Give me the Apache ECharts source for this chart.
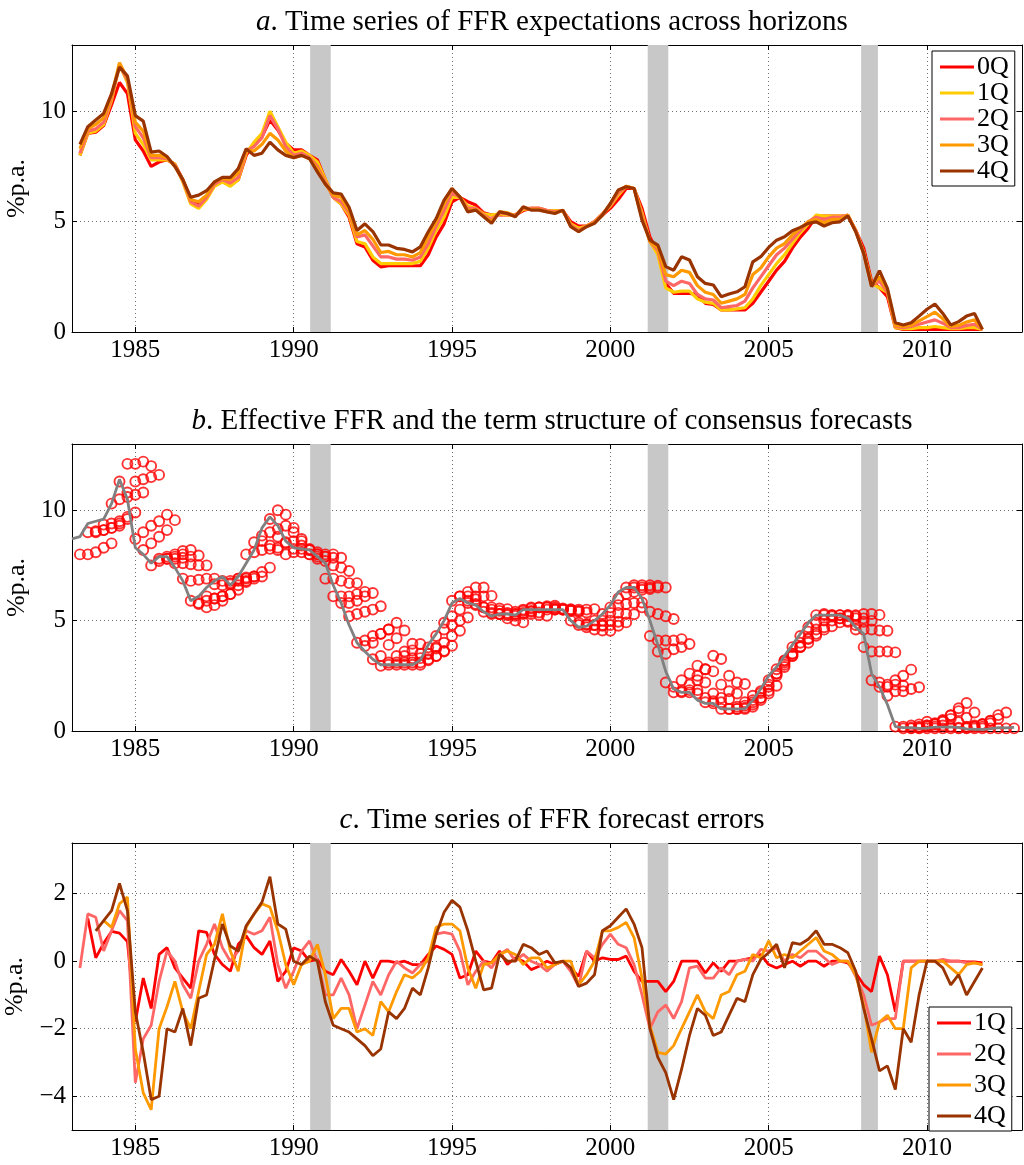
<!DOCTYPE html>
<html>
<head>
<meta charset="utf-8">
<script src="https://cdn.jsdelivr.net/npm/echarts@6/dist/echarts.min.js"></script>
<style>
  html, body { margin: 0; padding: 0; background: #fff; }
  #chart { width: 1024px; height: 1165px; }
</style>
</head>
<body>
<div id="chart"></div>
<script>
// FFR expectations, term structure and forecast errors — 3 stacked panels

// ---- Data (quarterly) ----
const FC_START = 1983.25;    // first survey quarter
const EFFR_START = 1983.0;

// forecasts by horizon, 1983Q2 .. 2011Q4
const fc0Q = [
  8.0, 9.0, 9.05,
  9.35, 10.3, 11.3, 10.8,  8.7, 8.2, 7.5, 7.7,  7.8, 7.6, 6.9, 5.9,  5.75, 6.1, 6.65, 6.8,
  6.65, 6.9, 8.0, 8.55,  8.85, 9.6, 9.15, 8.55,  8.25, 8.25, 8.0, 7.8,  6.9, 6.1, 5.8, 5.2,
  4.0, 3.85, 3.25, 2.95,  3.0, 3.0, 3.0, 3.0,  3.0, 3.5, 4.3, 4.9,  5.9, 6.1, 5.9, 5.75,
  5.4, 5.3, 5.3, 5.3,  5.3, 5.5, 5.6, 5.6,  5.5, 5.5, 5.5, 5.0,  4.8, 4.8, 5.0, 5.3,
  5.6, 6.0, 6.5, 6.5,  5.6, 4.3, 3.6, 2.2,  1.75, 1.75, 1.75, 1.7,  1.3, 1.25, 1.0, 1.0,
  1.0, 1.0, 1.3, 1.8,  2.3, 2.8, 3.2, 3.8,  4.3, 4.7, 5.25, 5.25,  5.25, 5.25, 5.25, 4.6,
  3.8, 2.3, 2.0, 1.6,  0.2, 0.12, 0.12, 0.12,  0.12, 0.12, 0.12, 0.12,  0.12, 0.12, 0.12, 0.12,
];
const fc1Q = [
  8.0, 9.0, 9.1,
  9.4, 10.5, 12.1, 11.3,  9.0, 8.5, 7.8, 7.8,  7.8, 7.6, 6.8, 5.8,  5.6, 6.0, 6.6, 6.8,
  6.6, 6.9, 8.1, 8.6,  9.0, 10.0, 9.3, 8.6,  8.1, 8.2, 8.0, 7.7,  6.9, 6.1, 5.8, 5.3,
  4.1, 4.0, 3.4, 3.1,  3.1, 3.1, 3.1, 3.1,  3.2, 3.8, 4.6, 5.2,  6.1, 6.1, 5.7, 5.6,
  5.35, 5.3, 5.35, 5.3,  5.3, 5.55, 5.6, 5.6,  5.5, 5.5, 5.5, 4.9,  4.7, 4.8, 5.0, 5.35,
  5.7, 6.2, 6.6, 6.5,  5.4, 4.1, 3.5, 2.0,  1.8, 1.85, 1.85, 1.5,  1.35, 1.3, 1.0, 1.0,
  1.05, 1.1, 1.5, 2.1,  2.6, 3.1, 3.5, 4.0,  4.5, 4.9, 5.3, 5.25,  5.25, 5.25, 5.25, 4.6,
  3.6, 2.2, 2.0, 1.8,  0.2, 0.15, 0.15, 0.2,  0.2, 0.25, 0.2, 0.15,  0.15, 0.2, 0.2, 0.12,
];
const fc2Q = [
  8.1, 9.1, 9.2,
  9.5, 10.6, 12.1, 11.4,  9.3, 8.8, 7.9, 7.9,  7.85, 7.55, 6.85, 5.9,  5.7, 6.1, 6.7, 6.9,
  6.75, 7.0, 8.2, 8.4,  8.8, 9.8, 9.2, 8.4,  8.0, 8.1, 7.9, 7.5,  6.8, 6.1, 5.9, 5.4,
  4.3, 4.4, 3.9, 3.4,  3.4, 3.3, 3.3, 3.25,  3.4, 4.0, 4.8, 5.5,  6.3, 6.1, 5.6, 5.6,
  5.3, 5.1, 5.4, 5.35,  5.3, 5.6, 5.6, 5.6,  5.5, 5.45, 5.5, 4.85,  4.6, 4.8, 5.0, 5.35,
  5.75, 6.3, 6.6, 6.5,  5.3, 4.1, 3.7, 2.3,  2.1, 2.3, 2.2, 1.7,  1.5, 1.45, 1.1, 1.15,
  1.2, 1.4, 2.0, 2.5,  3.0, 3.5, 3.8, 4.2,  4.6, 5.0, 5.2, 5.1,  5.2, 5.2, 5.3, 4.6,
  3.6, 2.1, 2.3, 1.8,  0.25, 0.2, 0.25, 0.35,  0.45, 0.55, 0.4, 0.2,  0.2, 0.3, 0.35, 0.12,
];
const fc3Q = [
  8.3, 9.2, 9.4,
  9.7, 10.7, 12.2, 11.5,  9.5, 9.1, 8.0, 8.0,  7.9, 7.5, 6.9, 6.0,  5.9, 6.2, 6.8, 6.95,
  6.9, 7.2, 8.25, 8.2,  8.5, 9.0, 8.7, 8.2,  7.9, 8.0, 7.85, 7.4,  6.7, 6.2, 6.1, 5.5,
  4.4, 4.6, 4.2, 3.6,  3.65, 3.5, 3.5, 3.4,  3.6, 4.3, 5.0, 5.8,  6.5, 6.1, 5.5, 5.55,
  5.25, 5.0, 5.45, 5.4,  5.25, 5.65, 5.55, 5.55,  5.45, 5.4, 5.5, 4.8,  4.55, 4.8, 4.95, 5.3,
  5.8, 6.4, 6.6, 6.5,  5.2, 4.1, 3.8, 2.6,  2.5, 2.8, 2.7, 2.1,  1.8, 1.7, 1.3, 1.4,
  1.5, 1.7, 2.6, 2.9,  3.4, 3.8, 4.0, 4.4,  4.7, 5.0, 5.1, 4.95,  5.1, 5.1, 5.3, 4.55,
  3.6, 2.1, 2.5, 1.9,  0.3, 0.25, 0.3, 0.5,  0.7, 0.9, 0.6, 0.25,  0.3, 0.45, 0.55, 0.12,
];
const fc4Q = [
  8.5, 9.3, 9.6,
  9.9, 10.8, 12.0, 11.6,  9.8, 9.55, 8.15, 8.2,  7.95, 7.5, 6.9, 6.1,  6.2, 6.4, 6.8, 7.0,
  7.0, 7.4, 8.3, 8.0,  8.1, 8.6, 8.25, 8.0,  7.9, 8.0, 7.85, 7.25,  6.7, 6.3, 6.25, 5.65,
  4.6, 4.9, 4.55, 3.95,  3.94, 3.79, 3.74, 3.63,  3.86, 4.54, 5.14, 5.97,  6.5, 6.12, 5.44, 5.52,
  5.22, 4.92, 5.44, 5.37,  5.22, 5.67, 5.52, 5.52,  5.44, 5.37, 5.52, 4.77,  4.54, 4.77, 4.92, 5.29,
  5.82, 6.43, 6.58, 6.5,  5.07, 4.16, 3.94, 2.96,  2.8, 3.41, 3.26, 2.5,  2.2, 2.13, 1.6, 1.72,
  1.82, 2.05, 3.18, 3.41,  3.83, 4.16, 4.31, 4.59,  4.74, 4.92, 4.99, 4.8,  4.95, 4.99, 5.26, 4.54,
  3.56, 2.05, 2.78, 1.98,  0.42, 0.32, 0.42, 0.72,  1.03, 1.27, 0.84, 0.32,  0.47, 0.72, 0.84, 0.12,
];

// effective FFR, 1983Q1 .. 2012Q4
const effr = [
  8.7, 8.8, 9.4, 9.5,  9.6, 10.3, 11.4, 10.5,  8.3, 8.0, 7.6, 7.9,  7.9, 7.4, 6.8, 5.9,
  6.1, 6.5, 6.8, 7.0,  6.6, 7.0, 7.6, 8.2,  9.2, 9.7, 9.3, 8.6,  8.3, 8.25, 8.2, 7.9,
  7.6, 6.6, 5.8, 4.8,  4.0, 3.6, 3.25, 3.0,  3.0, 3.0, 3.0, 3.0,  3.2, 3.9, 4.4, 5.0,
  5.8, 6.0, 5.8, 5.7,  5.4, 5.2, 5.3, 5.3,  5.25, 5.5, 5.5, 5.5,  5.5, 5.5, 5.5, 5.0,
  4.7, 4.75, 5.0, 5.3,  5.7, 6.3, 6.5, 6.5,  6.0, 5.0, 3.9, 2.7,  1.9, 1.75, 1.75, 1.4,
  1.25, 1.25, 1.0, 1.0,  1.0, 1.0, 1.4, 1.9,  2.5, 2.9, 3.4, 3.9,  4.4, 4.9, 5.25, 5.25,
  5.25, 5.25, 5.1, 4.7,  4.4, 2.6, 2.0, 1.2,  0.2, 0.15, 0.15, 0.12,  0.13, 0.18, 0.18, 0.19,
  0.15, 0.1, 0.08, 0.07,  0.1, 0.15, 0.14, 0.16,
];

// forecast errors by horizon, 1983Q2 .. 2011Q4
const err1Q = [
  null, 1.27, 0.1,
  0.53, 0.88, 0.83, 0.58,  -1.8, -0.5, -1.4, 0.2,  0.4, -0.2, -0.5, -0.8,  0.9, 0.85, 0.2, -0.1,
  -0.3, 0.5, 0.75, 0.4,  0.2, 0.6, -0.6, -0.3,  0.4, 0.3, 0.0, 0.05,  -0.3, -0.4, 0.05, -0.3,
  -0.7, 0.0, -0.5, 0.0,  0.0, -0.05, 0.0, -0.1,  -0.1, 0.2, 0.45, 0.35,  0.2, -0.5, -0.4, 0.3,
  0.0, -0.05, 0.3, -0.1,  0.1, 0.0, -0.25, -0.15,  0.0, -0.1, 0.0, -0.2,  -0.45, 0.3, 0.0, 0.1,
  0.05, 0.05, 0.15, -0.3,  -0.6, -0.6, -0.6, -0.9,  -0.6, 0.0, 0.0, 0.0,  -0.35, -0.05, -0.3, 0.0,
  0.0, 0.05, 0.1, 0.2,  -0.1, -0.2, -0.1, 0.0,  -0.15, 0.0, 0.0, -0.15,  0.0, 0.0, -0.05, -0.35,
  -0.7, -0.9, 0.15, -0.4,  -1.5, 0.0, 0.0, 0.0,  0.0, 0.0, 0.0, 0.0,  0.0, -0.02, -0.02, -0.05,
];
const err2Q = [
  -0.2, 1.4, 1.3,
  0.3, 0.9, 1.5, 1.2,  -3.6, -2.3, -1.9, -0.6,  0.3, 0.0, -0.7, -1.1,  0.0, 0.5, 1.1, 0.4,
  0.0, 0.3, 0.9, 0.8,  0.9, 1.3, -0.1, -0.8,  -0.3, 0.3, 0.6, 0.0,  -1.0, -1.0, -0.5, -1.0,
  -2.0, -1.3, -0.6, -1.0,  -0.4, 0.0, -0.2, -0.35,  -0.1, 0.0, 0.8, 0.85,  0.8, 0.3, -0.7, -0.3,
  0.0, -0.2, 0.2, 0.35,  0.0, 0.2, 0.0, -0.1,  -0.3, -0.1, 0.0, -0.3,  -0.75, 0.3, 0.1, 0.5,
  0.8, 0.5, 0.4, -0.1,  -1.0, -2.0, -1.5, -1.3,  -1.7, -1.2, -0.2, -0.15,  -0.5, -0.5, -0.2, -0.4,
  0.0, 0.05, 0.0, 0.35,  0.3, 0.4, 0.0, 0.2,  0.1, 0.3, 0.3, 0.1,  -0.1, 0.0, 0.0, -0.45,
  -1.0, -1.9, -1.8, -1.7,  -1.7, 0.0, 0.0, 0.0,  0.0, 0.0, 0.05, 0.0,  0.0, -0.05, -0.05, -0.1,
];
const err3Q = [
  null, null, null,
  1.2, 1.0, 1.7, 1.9,  -2.6, -3.9, -4.4, -2.0,  -1.35, -0.6, -1.5, -2.0,  -0.9, 0.2, 0.5, 1.4,
  0.3, -0.3, 1.0, 1.4,  1.7, 1.6, 0.9, -0.1,  -0.7, -0.1, 0.0, 0.5,  -0.4, -1.7, -1.4, -1.4,
  -2.1, -2.0, -2.2, -1.2,  -1.5, -0.9, -0.4, -0.5,  -0.3, 0.1, 1.0, 1.1,  1.1, 0.9, -0.2, -0.8,
  -0.1, -0.05, 0.2, 0.3,  0.2, -0.1, 0.1, 0.1,  -0.2, -0.1, 0.0, 0.0,  -0.7, -0.4, 0.0, 0.9,
  0.9, 1.0, 1.15, 0.7,  -0.5, -1.9, -2.7, -2.75,  -2.5, -2.0, -1.5, -1.0,  -1.5, -1.7, -1.0, -0.9,
  -0.4, -0.3, 0.2, 0.1,  0.6, 0.1, 0.2, 0.1,  0.3, 0.5, 0.7, 0.3,  0.2, 0.0, 0.0, -0.4,
  -1.3, -2.7, -1.8, -1.6,  -2.0, -2.0, -0.2, 0.0,  0.0, 0.0, 0.0, -0.2,  -0.4, -0.1, -0.05, -0.1,
];
const err4Q = [
  null, null, 0.9,
  1.2, 1.5, 2.3, 1.5,  -1.5, -2.7, -4.1, -4.0,  -2.0, -2.1, -1.4, -2.5,  -1.1, -1.0, 0.05, 1.1,
  0.45, 0.3, 1.05, 1.4,  1.75, 2.5, 1.1, 0.95,  0.0, -0.1, 0.15, 0.0,  -1.2, -1.9, -2.0, -2.1,
  -2.3, -2.5, -2.8, -2.6,  -1.5, -1.7, -1.4, -0.8,  -1.0, -0.2, 0.8, 1.45,  1.8, 1.6, 0.9, 0.0,
  -0.85, -0.8, 0.2, 0.0,  0.0, 0.5, 0.4, 0.2,  0.3, -0.05, 0.0, -0.2,  -0.75, -0.65, -0.4, 0.9,
  1.05, 1.3, 1.55, 1.1,  0.4, -2.0, -2.85, -3.3,  -4.1, -3.2, -2.2, -1.4,  -1.6, -2.2, -2.1, -1.6,
  -1.1, -1.2, -0.4, 0.05,  0.25, 0.5, -0.2, 0.55,  0.5, 0.65, 0.9, 0.5,  0.5, 0.4, 0.25, -0.3,
  -1.4, -2.3, -3.25, -3.1,  -3.8, -2.0, -2.4, -1.0,  0.0, 0.0, -0.2, -0.7,  -0.4, -1.0, -0.6, -0.2,
];

const recessions = [[1990.52, 1991.17], [2001.18, 2001.83], [2007.92, 2008.45]];
const yearTicks = [1985, 1990, 1995, 2000, 2005, 2010];
const levelTicks = [0, 5, 10];
const errorTicks = [-4, -2, 0, 2];
const horizonNames = ['0Q', '1Q', '2Q', '3Q', '4Q'];
const errorNames = ['1Q', '2Q', '3Q', '4Q'];

// ---- Style ----
const FONT = 'Liberation Serif';
const COLORS = {
  h0: '#ff0000',
  h1: '#ffcc00',
  h2: '#ff6666',
  h3: '#ff9900',
  h4: '#993300',
  effr: '#808080',
  band: '#c8c8c8',
  grid: '#707070',
};
const HCOL = [COLORS.h0, COLORS.h1, COLORS.h2, COLORS.h3, COLORS.h4];

const PANELS = [
  { top: 45, height: 287, min: 0, max: 13, ticks: levelTicks },
  { top: 444, height: 287, min: 0, max: 13, ticks: levelTicks },
  { top: 843, height: 287, min: -5, max: 3.5, ticks: errorTicks },
];

function quarterly(values, start) {
  return values.map((v, i) => [start + 0.25 * i, v]).filter(p => p[1] !== null);
}

// each survey's horizons placed at their target quarter
function termPoints(forecasts) {
  const pts = [];
  forecasts.forEach((vals, h) => vals.forEach((v, i) => pts.push([FC_START + 0.25 * (i + h), v])));
  return pts;
}

function xAxes(g) {
  const base = {
    gridIndex: g, type: 'value', min: 1983, max: 2013,
    axisLine: { onZero: false, lineStyle: { color: '#000', width: 1 } },
    axisTick: { inside: true, length: 5, customValues: yearTicks, lineStyle: { color: '#000' } },
  };
  return [
    { ...base, position: 'bottom',
      axisLabel: {
        customValues: yearTicks, fontFamily: FONT, fontSize: 25, color: '#000', margin: 6,
        formatter: v => String(v),
      },
      splitLine: { show: true, lineStyle: { type: [1, 3], color: COLORS.grid } } },
    { ...base, position: 'top', axisLabel: { show: false }, splitLine: { show: false } },
  ];
}

function yAxes(g, p) {
  const base = {
    gridIndex: g, type: 'value', min: p.min, max: p.max,
    axisLine: { show: true, onZero: false, lineStyle: { color: '#000', width: 1 } },
    axisTick: { show: true, inside: true, length: 5, customValues: p.ticks, lineStyle: { color: '#000' } },
  };
  return [
    { ...base, position: 'left',
      name: '%p.a.', nameLocation: 'middle', nameRotate: 90, nameGap: 30,
      nameTextStyle: { fontFamily: FONT, fontSize: 26, color: '#000' },
      axisLabel: {
        customValues: p.ticks, fontFamily: FONT, fontSize: 25, color: '#000', margin: 6,
        formatter: v => String(v).replace('-', '\u2212'),
      },
      splitLine: { show: true, lineStyle: { type: [1, 3], color: COLORS.grid } } },
    { ...base, position: 'right', axisLabel: { show: false }, splitLine: { show: false } },
  ];
}

function titleOf(letter, text, top) {
  return {
    text: '{i|' + letter + '}. ' + text,
    left: 547, top, textAlign: 'center',
    textStyle: {
      fontFamily: FONT, fontSize: 29, fontWeight: 'normal', color: '#000',
      rich: { i: { fontFamily: FONT, fontSize: 29, fontStyle: 'italic', color: '#000' } },
    },
  };
}

function legendBox(names, left, top, gap, fmt) {
  return {
    orient: 'vertical', left, top, itemGap: gap,
    data: names.map(n => ({ name: n, icon: 'rect' })),
    itemWidth: 34, itemHeight: 3,
    formatter: fmt,
    backgroundColor: '#fff', borderColor: '#000', borderWidth: 1, borderRadius: 0,
    padding: [3, 6, 2, 8],
    selectedMode: false,
    textStyle: { fontFamily: FONT, fontSize: 26, color: '#000', lineHeight: 24, padding: [0, 0, 0, -2] },
  };
}

// ---- Build ----
const chart = echarts.init(document.getElementById('chart'), null, { renderer: 'canvas' });
const forecasts = [fc0Q, fc1Q, fc2Q, fc3Q, fc4Q];
const errors = [err1Q, err2Q, err3Q, err4Q];

const series = [];

// recession shading in each panel
PANELS.forEach((p, i) => {
  series.push({
    type: 'scatter', xAxisIndex: 2 * i, yAxisIndex: 2 * i, data: [], silent: true,
    markArea: {
      silent: true,
      itemStyle: { color: COLORS.band, opacity: 1 },
      data: recessions.map(r => [{ xAxis: r[0] }, { xAxis: r[1] }]),
    },
  });
});

// panel a: expectations by horizon
horizonNames.forEach((n, h) => {
  series.push({
    name: n, type: 'line', xAxisIndex: 0, yAxisIndex: 0,
    showSymbol: false, symbol: 'none', color: HCOL[h],
    lineStyle: { width: 3.2, color: HCOL[h] },
    data: quarterly(forecasts[h], FC_START),
  });
});

// panel b: effective FFR + consensus term structure
series.push({
  name: 'EFFR', type: 'line', xAxisIndex: 2, yAxisIndex: 2,
  showSymbol: false, symbol: 'none', color: COLORS.effr,
  lineStyle: { width: 2.8, color: COLORS.effr },
  data: quarterly(effr, EFFR_START),
});
series.push({
  name: 'term', type: 'scatter', xAxisIndex: 2, yAxisIndex: 2,
  symbol: 'circle', symbolSize: 10, clip: true,
  itemStyle: { color: 'rgba(255,255,255,0)', borderColor: COLORS.h0, borderWidth: 1.9 },
  data: termPoints(forecasts),
});

// panel c: forecast errors
const ERR_COL = [COLORS.h0, COLORS.h2, COLORS.h3, COLORS.h4];
errorNames.forEach((n, k) => {
  series.push({
    name: 'err' + n, type: 'line', xAxisIndex: 4, yAxisIndex: 4,
    showSymbol: false, symbol: 'none', color: ERR_COL[k],
    lineStyle: { width: 2.8, color: ERR_COL[k] },
    data: quarterly(errors[k], FC_START),
  });
});

chart.setOption({
  animation: false,
  backgroundColor: '#fff',
  title: [
    titleOf('a', 'Time series of FFR expectations across horizons', 3),
    titleOf('b', 'Effective FFR and the term structure of consensus forecasts', 402),
    titleOf('c', 'Time series of FFR forecast errors', 801),
  ],
  legend: [
    legendBox(horizonNames, 932, 51, 0, n => n),
    legendBox(errorNames.map(n => 'err' + n), 929, 1007, 5, n => n.replace('err', '')),
  ],
  grid: PANELS.map(p => ({
    left: 72, right: 2, top: p.top, height: p.height, outerBoundsMode: 'none',
  })),
  xAxis: [0, 1, 2].flatMap(i => xAxes(i)),
  yAxis: PANELS.flatMap((p, i) => yAxes(i, p)),
  series,
});
</script>
</body>
</html>
